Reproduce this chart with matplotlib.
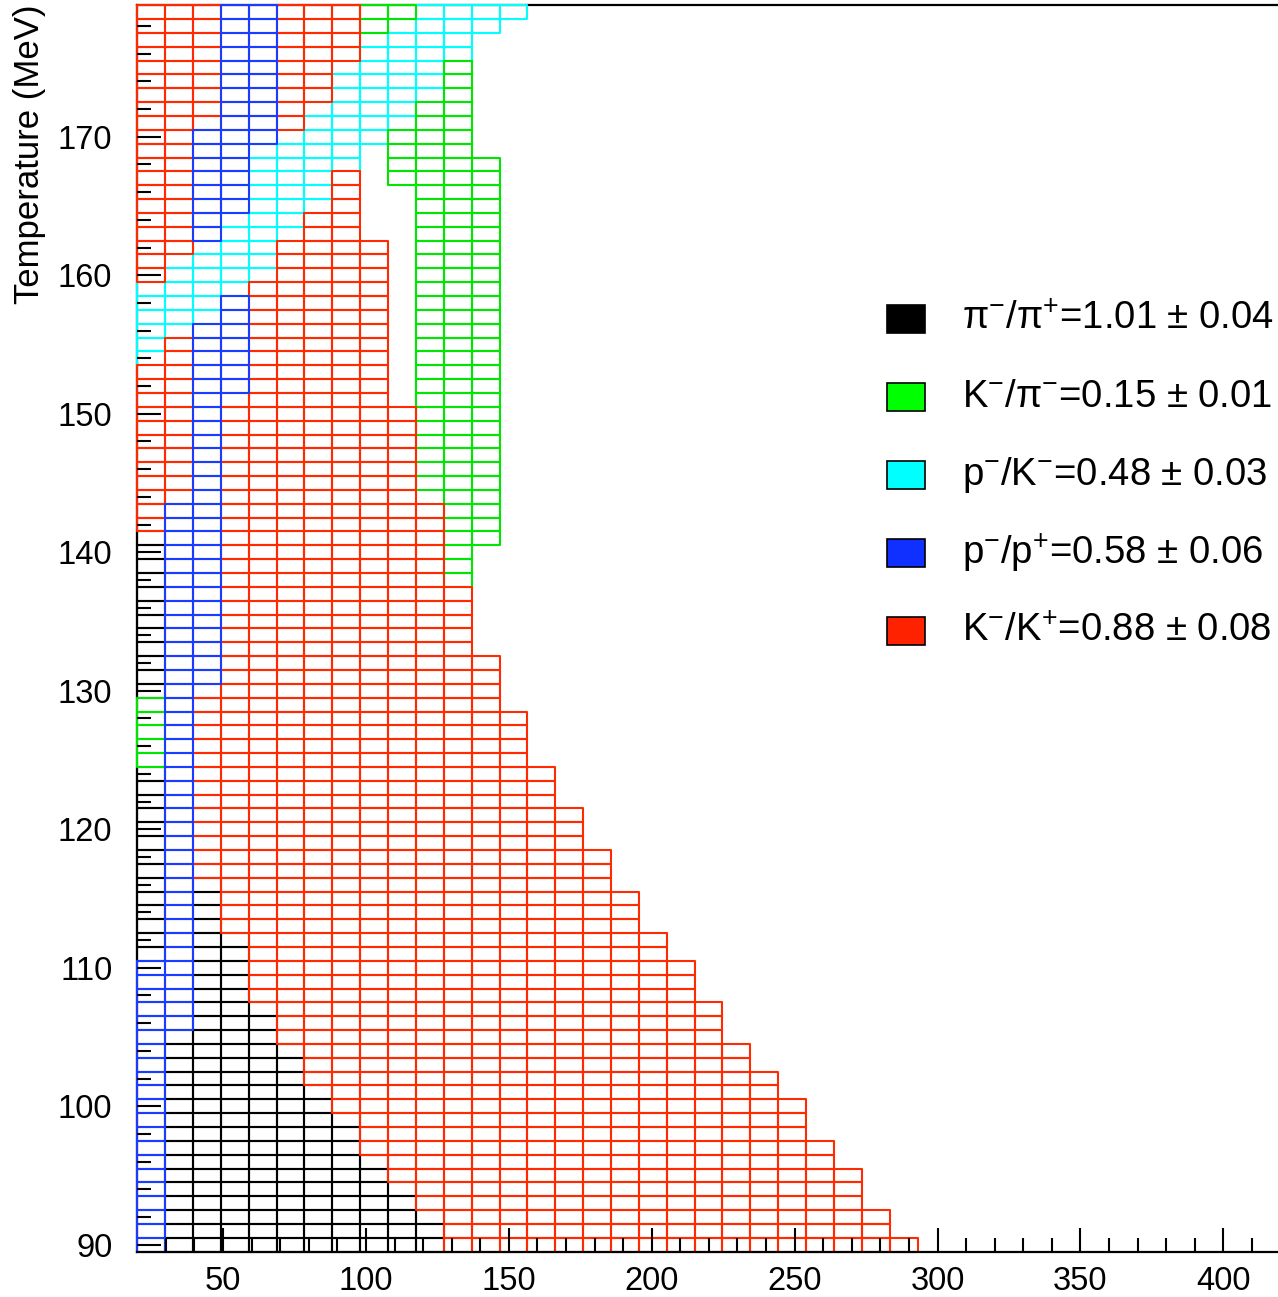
import numpy as np
import matplotlib
matplotlib.use("Agg")
import matplotlib.pyplot as plt
from matplotlib.patches import Rectangle
from matplotlib.collections import PatchCollection

plt.rcParams['font.family'] = ['Liberation Sans', 'DejaVu Sans']
plt.rcParams['mathtext.fontset'] = 'custom'
plt.rcParams['mathtext.rm'] = 'Liberation Sans'
plt.rcParams['mathtext.it'] = 'Liberation Sans:italic'

# binning of the scan: 40 mu_B bins, 1 MeV temperature bins
x_edges = np.linspace(20, 410, 41)
t_centres = np.arange(90, 180)

# K-/K+ allowed region: (T_first, T_last, number of mu_B bins from the left)
red_extent = [(90, 90, 28), (91, 92, 27), (93, 95, 26), (96, 97, 25),
              (98, 100, 24), (101, 102, 23), (103, 104, 22), (105, 107, 21),
              (108, 110, 20), (111, 112, 19), (113, 115, 18), (116, 118, 17),
              (119, 121, 16), (122, 124, 15), (125, 128, 14), (129, 132, 13),
              (133, 137, 12), (138, 143, 11), (144, 150, 10), (151, 162, 9),
              (163, 179, 8)]

# other ratios, visible bins as (mu_B bin, T_first, T_last)
black_runs = [(0, 111, 124), (0, 130, 141), (1, 90, 105), (2, 90, 116),
              (3, 90, 112), (4, 90, 107), (5, 90, 104), (6, 90, 101),
              (7, 90, 99), (8, 90, 96), (9, 90, 94), (10, 90, 92)]
green_runs = [(0, 125, 129), (8, 178, 179), (9, 179, 179), (9, 167, 170),
              (10, 145, 172), (11, 138, 175), (12, 141, 168)]
cyan_runs = [(0, 154, 159), (1, 156, 161), (2, 157, 162), (3, 159, 164),
             (4, 160, 169), (5, 163, 170), (6, 165, 172), (7, 168, 175),
             (8, 170, 177), (9, 171, 178), (10, 173, 179), (11, 176, 179),
             (12, 178, 179), (13, 179, 179)]
blue_runs = [(0, 90, 110), (1, 106, 143), (2, 131, 156), (2, 163, 170),
             (3, 152, 158), (3, 165, 179), (4, 170, 179)]
# bins where nothing is shown although inside the red extent
empty_runs = [(8, 163, 169)]

labels = ['π$^{-}$/π$^{+}$=1.01 $\\pm$ 0.04',
          'K$^{-}$/π$^{-}$=0.15 $\\pm$ 0.01',
          'p$^{-}$/K$^{-}$=0.48 $\\pm$ 0.03',
          'p$^{-}$/p$^{+}$=0.58 $\\pm$ 0.06',
          'K$^{-}$/K$^{+}$=0.88 $\\pm$ 0.08']
colors = {'black': '#000000', 'green': '#00e600', 'cyan': '#00ffff',
          'blue': '#1a3cff', 'red': '#ff2a00'}
legend_colors = ['#000000', '#00ff00', '#00ffff', '#1030ff', '#ff2200']

# fill a bin map: 0 empty, 1 black, 2 green, 3 cyan, 4 blue, 5 red
grid = np.zeros((len(t_centres), len(x_edges) - 1), dtype=int)
for t0, t1, n in red_extent:
    grid[t0 - 90:t1 - 89, :n] = 5
for code, runs in [(1, black_runs), (2, green_runs), (3, cyan_runs),
                   (4, blue_runs), (0, empty_runs)]:
    for c, t0, t1 in runs:
        grid[t0 - 90:t1 - 89, c] = code

fig = plt.figure(figsize=(12.78, 12.97), dpi=100)
ax = fig.add_axes([0.10743, 0.03493, 0.8945, 0.96107])
ax.set_xlim(20, 420)
ax.set_ylim(89.5, 179.5)

draw_order = [(1, 'black'), (3, 'cyan'), (2, 'green'), (5, 'red'), (4, 'blue')]
for code, name in draw_order:
    rows, cols = np.nonzero(grid == code)
    boxes = [Rectangle((x_edges[c], t_centres[r] - 0.5),
                       x_edges[c + 1] - x_edges[c], 1.0)
             for r, c in zip(rows, cols)]
    pc = PatchCollection(boxes, facecolor='none', edgecolor=colors[name],
                         linewidth=1.5, zorder=2.6, clip_on=False)
    ax.add_collection(pc)

for side in ['left', 'bottom', 'top']:
    ax.spines[side].set_linewidth(1.6)
ax.spines['left'].set_zorder(2)
ax.spines['bottom'].set_zorder(3.5)
ax.spines['top'].set_zorder(2)
ax.spines['right'].set_visible(False)
ax.xaxis.set_zorder(3)
ax.yaxis.set_zorder(3)

ax.set_xticks(np.arange(50, 401, 50))
ax.set_xticks(np.arange(30, 421, 10), minor=True)
ax.set_yticks(np.arange(90, 171, 10))
ax.set_yticks(np.arange(90, 179, 2), minor=True)
ax.tick_params(which='both', direction='in', width=1.5, labelsize=23.5,
               top=False, right=False)
ax.tick_params(which='major', length=17)
ax.tick_params(which='minor', length=10)
ax.tick_params(axis='y', pad=18)
ax.tick_params(axis='x', pad=10)

fig.text(30 / 1278, 1 - 4 / 1297, 'Temperature (MeV)', rotation=90,
         ha='center', va='top', fontsize=25)

# legend boxes and labels
for i, (lab, col) in enumerate(zip(labels, legend_colors)):
    yc = 319 + 78 * i
    fig.add_artist(Rectangle((887 / 1278, 1 - (yc + 14) / 1297), 38 / 1278,
                             28 / 1297, transform=fig.transFigure,
                             facecolor=col, edgecolor='black', linewidth=1.2))
    fig.text(962 / 1278, 1 - yc / 1297, lab, ha='left', va='center',
             fontsize=27.5)

fig.savefig('out.png', dpi=100)
